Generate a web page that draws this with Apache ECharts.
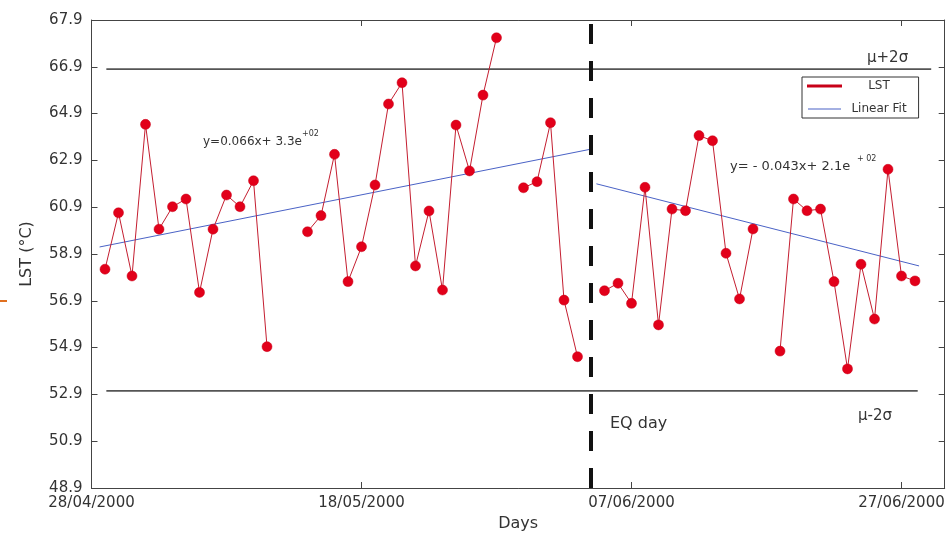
<!DOCTYPE html>
<html><head><meta charset="utf-8">
<script src="https://cdn.jsdelivr.net/npm/echarts/dist/echarts.min.js"></script>
<style>html,body{margin:0;padding:0;background:#fff}#c{width:950px;height:535px}</style>
</head><body><div id="c"></div>
<script>
// ---- data ----
const days = [1,2,3,4,5,6,7,8,9,10,11,12,13,14,15,16,17,18,19,20,21,22,23,24,25,26,27,28,29,30,
  31,32,33,34,35,36,37,38,39,40,41,42,43,44,45,46,47,48,49,50,51,52,53,54,55,56,57,58,59,60,61];
const lst = [58.25,60.66,57.96,64.44,59.96,60.92,61.25,57.26,59.96,61.42,60.92,62.03,54.94,null,null,
  59.85,60.54,63.16,57.72,59.21,61.85,65.31,66.22,58.39,60.74,57.36,64.41,62.45,65.69,68.14,
  null,61.73,61.99,64.51,56.93,54.51,null,
  57.33,57.65,56.79,61.75,55.87,60.82,60.75,63.96,63.74,58.93,56.98,59.97,null,
  54.75,61.25,60.75,60.82,57.72,53.99,58.46,56.12,62.52,57.96,57.75];
const fit1Days = [0.6, 36.9];
const fit1Values = [59.2, 63.37];
const fit2Days = [37.4, 61.3];
const fit2Values = [61.9, 58.39];
const upperDays = [1.1, 62.2];
const upperValue = 66.8;
const lowerDays = [1.1, 61.2];
const lowerValue = 53.05;
const eqDay = 37;
const xTicks = [0, 20, 40, 60];
const xTickLabels = ['28/04/2000', '18/05/2000', '07/06/2000', '27/06/2000'];
const yTicks = [48.9, 50.9, 52.9, 54.9, 56.9, 58.9, 60.9, 62.9, 64.9, 66.9, 68.9];
const yTickLabels = ['48.9', '50.9', '52.9', '54.9', '56.9', '58.9', '60.9', '62.9', '64.9', '66.9', '67.9'];

// ---- chart ----
const FONT = 'DejaVu Sans';
const AX = '#444';
function lab(arr, labels, v) {
  for (let i = 0; i < arr.length; i++) if (Math.abs(arr[i] - v) < 1e-6) return labels[i];
  return '';
}
const xBase = {
  type: 'value', min: 0, max: 63.2,
  axisLine: { show: true, lineStyle: { color: AX, width: 1 } },
  splitLine: { show: false },
  axisTick: { show: true, inside: true, length: 6, customValues: xTicks, lineStyle: { color: AX } }
};
const yBase = {
  type: 'value', min: 48.9, max: 68.9,
  axisLine: { show: true, onZero: false, lineStyle: { color: AX, width: 1 } },
  splitLine: { show: false },
  axisTick: { show: true, inside: true, length: 6, customValues: yTicks, lineStyle: { color: AX } }
};
const chart = echarts.init(document.getElementById('c'), null, { renderer: 'canvas' });
chart.setOption({
  animation: false,
  backgroundColor: '#fff',
  textStyle: { fontFamily: FONT },
  grid: { left: 91.5, right: 5.3, top: 20, bottom: 47, containLabel: false, outerBoundsMode: 'none' },
  xAxis: [
    Object.assign({}, xBase, {
      position: 'bottom',
      name: 'Days', nameLocation: 'middle', nameGap: 27,
      nameTextStyle: { fontFamily: FONT, fontSize: 16, color: '#333' },
      axisLabel: { show: true, customValues: xTicks, margin: 8, fontFamily: FONT, fontSize: 15, color: '#333',
        formatter: v => lab(xTicks, xTickLabels, v) }
    }),
    Object.assign({}, xBase, { position: 'top', axisLabel: { show: false } })
  ],
  yAxis: [
    Object.assign({}, yBase, {
      position: 'left',
      name: 'LST (°C)', nameLocation: 'middle', nameGap: 57, nameRotate: 90,
      nameTextStyle: { fontFamily: FONT, fontSize: 16, color: '#333' },
      axisLabel: { show: true, customValues: yTicks, margin: 9, fontFamily: FONT, fontSize: 15, color: '#333',
        formatter: v => lab(yTicks, yTickLabels, v) }
    }),
    Object.assign({}, yBase, { position: 'right', axisLabel: { show: false } })
  ],
  legend: {
    data: [{ name: 'LST', icon: 'rect' }, { name: 'Linear Fit', icon: 'rect' }],
    orient: 'vertical', left: 802, top: 77,
    padding: [3, 12, 3, 5], itemGap: 11, itemWidth: 33, itemHeight: 1,
    borderColor: '#333', borderWidth: 1, backgroundColor: '#fff',
    formatter: '{c|{name}}',
    textStyle: { fontFamily: FONT, fontSize: 12, color: '#333',
      rich: { c: { width: 66, align: 'center', fontFamily: FONT, fontSize: 12, color: '#333' } } },
    selectedMode: false
  },
  series: [
    {
      name: 'μ+2σ', type: 'line', xAxisIndex: 0, yAxisIndex: 0, symbol: 'none', silent: true,
      data: upperDays.map(d => [d, upperValue]),
      lineStyle: { color: '#555', width: 1.6 }, z: 2,
      markLine: {
        silent: true, symbol: ['none', 'none'], label: { show: false },
        lineStyle: { color: '#111', width: 4, type: [20, 17] },
        data: [{ xAxis: eqDay }]
      }
    },
    {
      name: 'μ-2σ', type: 'line', symbol: 'none', silent: true,
      data: lowerDays.map(d => [d, lowerValue]),
      lineStyle: { color: '#555', width: 1.6 }, z: 2
    },
    {
      name: 'Linear Fit', type: 'line', symbol: 'none',
      data: fit1Days.map((d, i) => [d, fit1Values[i]]),
      itemStyle: { color: '#4a62c6' }, lineStyle: { color: '#4a62c6', width: 1 }, z: 3
    },
    {
      name: 'Linear Fit', type: 'line', symbol: 'none',
      data: fit2Days.map((d, i) => [d, fit2Values[i]]),
      itemStyle: { color: '#4a62c6' }, lineStyle: { color: '#4a62c6', width: 1 }, z: 3
    },
    {
      name: 'LST', type: 'line', symbol: 'circle', symbolSize: 10, connectNulls: false,
      data: days.map((d, i) => [d, lst[i]]),
      itemStyle: { color: '#e2001a', borderColor: '#c80018', borderWidth: 0.5 },
      lineStyle: { color: '#c41e30', width: 1 }, z: 4
    }
  ],
  graphic: [
    { type: 'text', left: 203, top: 136, style: { text: 'y=0.066x+ 3.3e', font: '12px "DejaVu Sans"', fill: '#333' } },
    { type: 'text', left: 302, top: 130, style: { text: '+02', font: '8px "DejaVu Sans"', fill: '#333' } },
    { type: 'text', left: 730, top: 160, style: { text: 'y= - 0.043x+ 2.1e', font: '13px "DejaVu Sans"', fill: '#333' } },
    { type: 'text', left: 857, top: 155, style: { text: '+ 02', font: '8px "DejaVu Sans"', fill: '#333' } },
    { type: 'text', left: 867, top: 51, style: { text: 'μ+2σ', font: '15px "DejaVu Sans"', fill: '#333' } },
    { type: 'text', left: 858, top: 409, style: { text: 'μ-2σ', font: '15px "DejaVu Sans"', fill: '#333' } },
    { type: 'text', left: 610, top: 416, style: { text: 'EQ day', font: '16px "DejaVu Sans"', fill: '#333' } },
    { type: 'rect', left: 0, top: 300, shape: { width: 7, height: 2 }, style: { fill: '#e07020' } }
  ]
});
</script></body></html>
